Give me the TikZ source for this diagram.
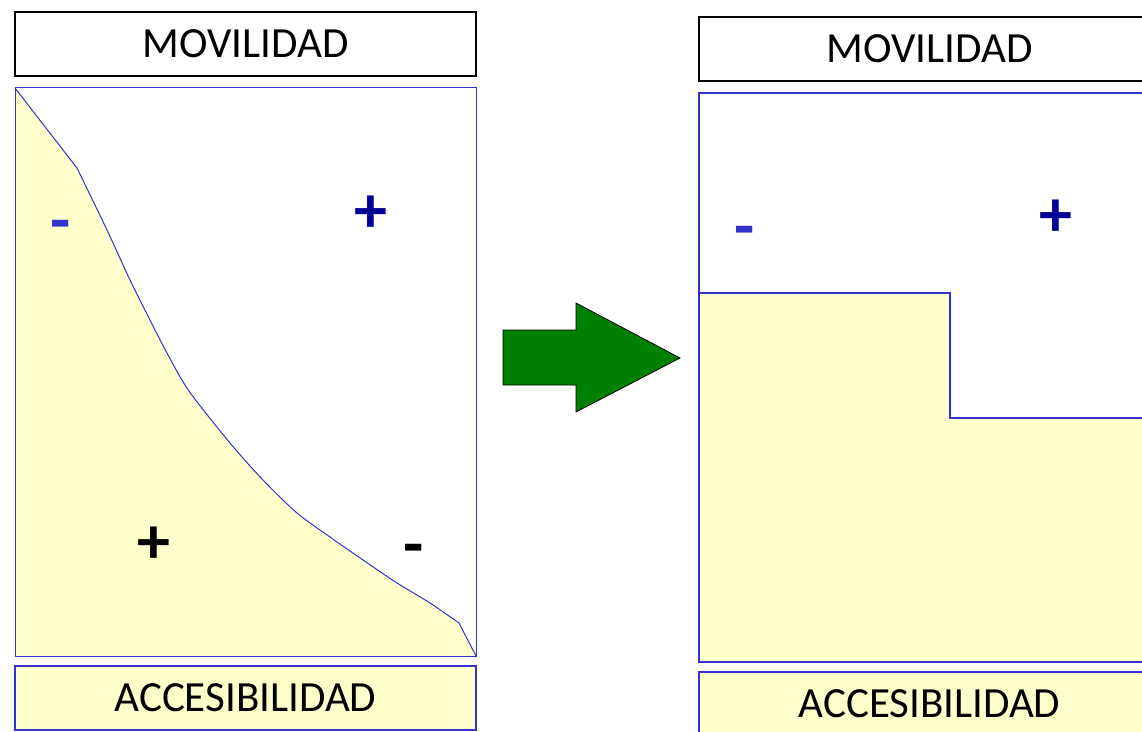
\documentclass[tikz,border=0pt]{standalone}
\usepackage{fontspec}
\setmainfont{Carlito}
\definecolor{bord}{HTML}{3333CC}
\definecolor{darkblue}{HTML}{000099}
\definecolor{paleyellow}{HTML}{FFFFCC}
\definecolor{arrowgreen}{HTML}{008000}
\tikzset{
  hdr/.style={draw=black, line width=1.2pt, fill=white, minimum width=461, minimum height=64, inner sep=0pt, font=\fontsize{43}{43}\selectfont},
  ftr/.style={draw=bord, line width=1.2pt, fill=paleyellow, minimum width=461, minimum height=64, inner sep=0pt, font=\fontsize{43}{43}\selectfont},
  panel/.style={draw=bord, line width=1pt, minimum width=461, minimum height=569, inner sep=0pt},
  sign/.style={inner sep=0pt, font=\fontsize{66}{66}\selectfont\bfseries},
  edge/.style={draw=bord, line width=1pt},
  stepline/.style={draw=bord, line width=2pt}
}
\begin{document}
\begin{tikzpicture}[x=1pt, y=-1pt]
\useasboundingbox (0,0) rectangle (1142,731);
% ---------- left panel ----------
\node[hdr] (movL) at (245.5,44) {MOVILIDAD};
\fill[paleyellow] (15,88) -- (77,168)
  -- plot[smooth, tension=0.5] coordinates {(77,168) (107,230) (130,280) (150,320) (167,353) (189,391) (230,443) (263,480) (297,513) (330,537) (363,560) (397,583) (430,603) (459,623)}
  -- (476,656) -- (15,656) -- cycle;
\draw[edge] (15,88) -- (77,168)
  -- plot[smooth, tension=0.5] coordinates {(77,168) (107,230) (130,280) (150,320) (167,353) (189,391) (230,443) (263,480) (297,513) (330,537) (363,560) (397,583) (430,603) (459,623)}
  -- (476,656);
\node[panel] (panL) at (245.5,371.5) {};
\node[ftr] (accL) at (245.5,698) {ACCESIBILIDAD};
\node[sign, text=bord] (mL1) at (61,231) {-};
\node[sign, text=darkblue] (pL1) at (371,214) {+};
\node[sign, text=black] (pL2) at (154,545) {+};
\node[sign, text=black] (mL2) at (414,555) {-};
% ---------- arrow ----------
\draw[fill=arrowgreen, draw=black, line width=0.8pt] (503,330) -- (576,330) -- (576,303) -- (680,358) -- (576,412) -- (576,385) -- (503,385) -- cycle;
% ---------- right panel ----------
\node[hdr] (movR) at (929.5,49) {MOVILIDAD};
\fill[paleyellow] (700,293) -- (950,293) -- (950,418) -- (1160,418) -- (1160,663) -- (700,663) -- cycle;
\node[panel, line width=1.5pt] (panR) at (929.5,377.5) {};
\draw[stepline] (700,293) -- (950,293) -- (950,418) -- (1160,418);
\node[ftr] (accR) at (929.5,704) {ACCESIBILIDAD};
\node[sign, text=bord] (mR1) at (745,237) {-};
\node[sign, text=darkblue] (pR1) at (1056,218) {+};
\end{tikzpicture}
\end{document}
